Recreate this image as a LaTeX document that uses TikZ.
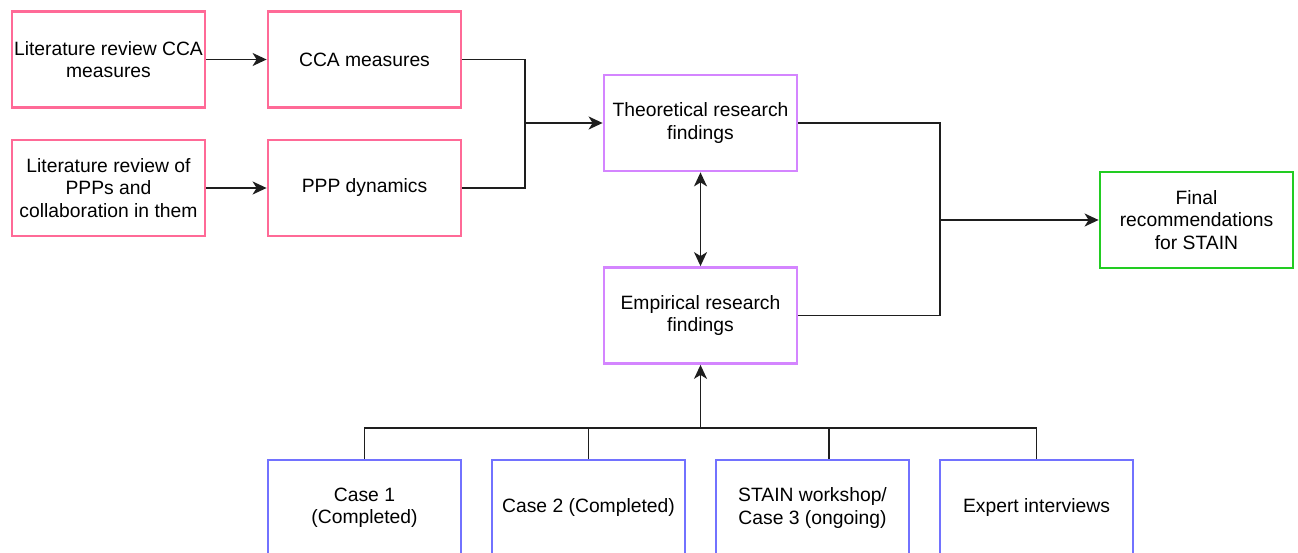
\documentclass[tikz,border=0pt]{standalone}
\usepackage{fontspec}
\setmainfont{Liberation Sans}
\usetikzlibrary{arrows.meta}
\definecolor{pinkc}{HTML}{FF6A97}
\definecolor{purpc}{HTML}{D485FF}
\definecolor{bluec}{HTML}{7272FF}
\definecolor{greenc}{HTML}{22CC22}
\definecolor{linec}{HTML}{1E1E1E}
\begin{document}
\begin{tikzpicture}[x=1pt,y=-1pt,
  box/.style={draw, line width=2.8pt, fill=white, minimum width=193pt, minimum height=96pt,
    align=center, inner sep=1pt, font=\fontsize{19.3}{22.5}\selectfont},
  pinkbox/.style={box, draw=pinkc},
  purpbox/.style={box, draw=purpc},
  bluebox/.style={box, draw=bluec},
  greenbox/.style={box, draw=greenc},
  conn/.style={draw=linec, line width=1.6pt},
  arr/.style={conn, -{Stealth[length=14pt,width=13pt,inset=4pt]}},
  darr/.style={conn, {Stealth[length=14pt,width=13pt,inset=4pt]}-{Stealth[length=14pt,width=13pt,inset=4pt]}}]
\useasboundingbox (0,0) rectangle (1298,553);
\clip (0,0) rectangle (1298,553);
\fill[white] (0,0) rectangle (1298,553);

\node[pinkbox] (A) at (108.5,59.5) {Literature review CCA\\measures};
\node[pinkbox] (B) at (364.5,59.5) {CCA measures};
\node[pinkbox] (C) at (108.5,188) {Literature review of\\PPPs and\\collaboration in them};
\node[pinkbox] (D) at (364.5,188) {PPP dynamics};
\node[purpbox] (T) at (700.5,123) {Theoretical research\\findings};
\node[purpbox] (E) at (700.5,315.5) {Empirical research\\findings};
\node[greenbox] (F) at (1196.5,220) {Final\\recommendations\\for STAIN};
\node[bluebox] (c1) at (364.5,508) {Case 1\\(Completed)};
\node[bluebox] (c2) at (588.5,508) {Case 2 (Completed)};
\node[bluebox] (c3) at (812.5,508) {STAIN workshop/\\Case 3 (ongoing)};
\node[bluebox] (c4) at (1036.5,508) {Expert interviews};

\coordinate (j1) at (525,123);
\coordinate (j2) at (940,220);
\coordinate (bus) at (700.5,428);

\draw[arr] (A.east) -- (B.west);
\draw[arr] (C.east) -- (D.west);
\draw[conn] (B.east) -| (j1);
\draw[conn] (D.east) -| (j1);
\draw[arr] (j1) -- (T.west);
\draw[conn] (T.east) -| (j2);
\draw[conn] (E.east) -| (j2);
\draw[arr] (j2) -- (F.west);
\draw[darr] (T.south) -- (E.north);
\draw[conn] (c1.north) -- (c1.north |- bus) -- (c4.north |- bus) -- (c4.north);
\draw[conn] (c2.north) -- (c2.north |- bus);
\draw[conn] ([xshift=16.5pt]c3.north) -- ([xshift=16.5pt]c3.north |- bus);
\draw[arr] (bus) -- (E.south);
\end{tikzpicture}
\end{document}
